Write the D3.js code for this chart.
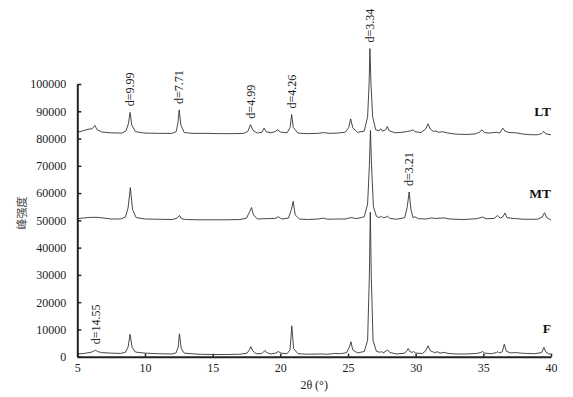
<!DOCTYPE html>
<html><head><meta charset="utf-8">
<script src="https://cdn.jsdelivr.net/npm/d3@7"></script>
<style>
html,body{margin:0;padding:0;background:#fff;}
svg{display:block;font-family:"Liberation Serif","Times New Roman",serif;}
</style></head>
<body><svg id="c" width="573" height="397"></svg>
<script>
// ---- data (2θ in degrees, intensity) ----
const seriesNames = ["F", "MT", "LT"];
const F = [[5.0,1000],[5.5,1200],[6.0,1600],[6.2,2000],[6.35,2400],[6.5,1900],[6.8,1500],[7.5,1300],[8.2,1200],[8.55,1600],[8.75,3500],[8.9,8200],[9.05,3400],[9.3,1700],[10,1300],[11,1100],[12,1000],[12.3,1400],[12.45,3500],[12.55,8400],[12.68,3000],[12.9,1300],[14,900],[15,800],[16,800],[17,900],[17.55,1300],[17.72,2600],[17.82,3700],[17.95,2200],[18.2,1100],[18.6,1100],[18.78,1800],[18.87,2300],[18.98,1500],[19.3,1000],[19.65,1300],[19.85,1900],[20.05,1300],[20.5,1100],[20.72,2500],[20.85,11300],[20.98,3000],[21.3,1100],[22,900],[23,1000],[23.5,900],[24,1200],[24.5,1100],[24.9,1500],[25.1,3500],[25.22,5500],[25.35,2500],[25.7,1400],[26.2,1900],[26.45,6000],[26.58,30000],[26.65,53000],[26.72,30000],[26.85,6000],[27.1,2000],[27.35,1600],[27.48,1900],[27.6,1400],[27.8,2000],[27.92,2500],[28.1,1500],[28.6,1000],[29.2,1300],[29.35,2200],[29.45,3000],[29.58,1800],[29.75,1600],[29.85,1900],[30.0,1300],[30.5,1200],[30.75,2200],[30.92,4000],[31.08,2200],[31.4,1500],[31.6,1800],[31.8,1300],[32.1,1600],[32.4,1200],[33,1000],[33.8,1000],[34.5,1200],[34.8,1500],[34.95,1900],[35.1,1300],[35.6,1100],[35.95,1500],[36.05,1800],[36.2,1400],[36.4,1800],[36.55,4600],[36.7,2000],[37,1400],[37.4,1500],[37.8,1300],[38.2,1200],[38.8,1100],[39.3,1500],[39.48,3400],[39.62,1700],[39.8,1100],[40,1000]];
const MT = [[5,50600],[5.5,50900],[6.0,51100],[6.5,51100],[7.0,50800],[7.5,50500],[8.2,50500],[8.55,51200],[8.75,54500],[8.92,62000],[9.08,54000],[9.35,51000],[10,50500],[11,50400],[12,50300],[12.38,50800],[12.55,51800],[12.7,50600],[13,50300],[14,50200],[15,50200],[16,50200],[17,50300],[17.5,50800],[17.72,53000],[17.87,54700],[18.02,52000],[18.3,50500],[18.8,50600],[19.6,50700],[19.85,51300],[20.1,50500],[20.6,50800],[20.82,54000],[20.95,57000],[21.1,52000],[21.4,50500],[22,50300],[22.8,50500],[23.2,50800],[23.5,50400],[24.2,50500],[24.8,50500],[25.1,50900],[25.3,51000],[25.6,50600],[26.2,51300],[26.45,56000],[26.58,70000],[26.66,83000],[26.74,70000],[26.88,55000],[27.1,51500],[27.3,51000],[27.48,51500],[27.6,50900],[27.8,51200],[27.92,51500],[28.1,50700],[28.6,50400],[29.2,51000],[29.38,55000],[29.52,60400],[29.65,54000],[29.8,51000],[29.95,51300],[30.2,50600],[30.8,50500],[31.15,50900],[31.5,50700],[32.1,50900],[32.5,50500],[33.5,50300],[34.5,50600],[34.95,51200],[35.2,50600],[35.8,50700],[36.05,51800],[36.25,50800],[36.45,51300],[36.6,52700],[36.75,51000],[37.2,50700],[38,50400],[39,50400],[39.35,51200],[39.52,52800],[39.68,51000],[40,50100]];
const LT = [[5,82300],[5.4,82800],[5.8,83400],[6.1,83600],[6.3,84800],[6.45,83300],[6.8,82400],[7.5,82100],[8.3,82000],[8.6,82800],[8.78,85500],[8.9,89600],[9.02,85000],[9.3,82500],[10,82000],[11,81900],[12,81900],[12.3,82500],[12.43,85500],[12.53,90500],[12.65,85000],[12.9,82200],[13.5,81900],[14.5,81900],[15.5,81800],[16.5,81800],[17.3,81900],[17.6,82600],[17.8,85100],[17.98,83000],[18.3,82000],[18.65,82300],[18.8,83800],[18.95,82500],[19.3,82100],[19.6,82500],[19.8,83200],[20.0,82400],[20.5,82100],[20.72,84000],[20.84,88800],[20.96,84000],[21.3,82000],[22,81800],[22.8,81900],[23.2,82200],[23.6,81900],[24.2,82000],[24.8,82300],[25.05,84000],[25.2,87200],[25.35,84000],[25.7,82300],[26.2,82700],[26.45,88000],[26.56,100000],[26.62,113000],[26.7,100000],[26.82,88000],[27.05,83200],[27.3,82800],[27.42,83600],[27.55,82700],[27.78,83200],[27.9,84400],[28.05,82800],[28.5,82100],[29.0,82300],[29.4,82600],[29.6,82800],[29.8,83200],[29.95,82500],[30.4,82200],[30.75,83600],[30.92,85400],[31.08,83500],[31.3,82600],[31.5,82800],[31.7,82300],[32.0,82500],[32.4,82000],[33,81600],[33.8,81500],[34.4,81700],[34.7,82300],[34.9,83200],[35.1,82200],[35.4,82000],[35.8,82200],[36.0,82300],[36.2,82000],[36.45,83800],[36.6,82700],[36.9,82200],[37.4,82100],[38,81600],[38.5,81400],[39,81400],[39.3,81800],[39.47,82600],[39.62,81700],[40,81400]];
// peak annotations: text, 2θ, intensity of apex
const peakLabels = ["d=14.55","d=9.99","d=7.71","d=4.99","d=4.26","d=3.34","d=3.21"];
const peakX = [6.35, 8.9, 12.53, 17.8, 20.84, 26.62, 29.52];
const peakY = [2400, 89600, 90500, 85100, 88800, 113000, 60400];
// series name labels at right
const nameLabelY = [8700, 58300, 88400];
const xTicks = [5,10,15,20,25,30,35,40];
const yTicks = [0,10000,20000,30000,40000,50000,60000,70000,80000,90000,100000];
const xLabel = "2θ (°)";
const yLabel = "峰强度";

// ---- chart ----
const svg = d3.select("#c");
const x = d3.scaleLinear().domain([5,40]).range([77.3,551]);
const y = d3.scaleLinear().domain([0,100000]).range([356.7,84]);

const line = d3.line().x(d=>x(d[0])).y(d=>y(d[1]));
[F, MT, LT].forEach(s=>{
  svg.append("path").datum(s).attr("d", line)
    .attr("fill","none").attr("stroke","#333").attr("stroke-width",0.9)
    .attr("stroke-linejoin","round");
});

const xa = svg.append("g").attr("transform",`translate(0,${y(0)})`)
  .call(d3.axisBottom(x).tickValues(xTicks).tickSize(-3).tickSizeOuter(0).tickPadding(7));
const ya = svg.append("g").attr("transform",`translate(${x(5)},0)`)
  .call(d3.axisLeft(y).tickValues(yTicks).tickSize(-4).tickSizeOuter(0).tickPadding(11).tickFormat(d3.format("d")));
[xa, ya].forEach(a=>{
  a.select(".domain").attr("stroke","#222").attr("stroke-width",2);
  a.selectAll(".tick line").attr("stroke","#222").attr("stroke-width",1.5);
  a.selectAll("text").attr("font-family","Liberation Serif, serif").attr("font-size",12).attr("fill","#222");
});

svg.append("text").attr("x",(x(5)+x(40))/2).attr("y",389)
  .attr("text-anchor","middle").attr("font-size",12).attr("fill","#222").text(xLabel);
svg.append("text").attr("transform",`translate(22,213) rotate(-90)`)
  .attr("text-anchor","middle").attr("dy","0.35em")
  .attr("font-family","'Noto Sans CJK SC', sans-serif").attr("font-size",11).attr("fill","#444").text(yLabel);

peakLabels.forEach((t,i)=>{
  svg.append("text")
    .attr("transform",`translate(${x(peakX[i])},${y(peakY[i])-6}) rotate(-90)`)
    .attr("text-anchor","start").attr("dy","0.35em")
    .attr("font-size",12).attr("fill","#222").text(t);
});

seriesNames.forEach((n,i)=>{
  svg.append("text").attr("x",x(40)).attr("y",y(nameLabelY[i]))
    .attr("text-anchor","end").attr("font-weight","bold")
    .attr("font-size",13.5).attr("fill","#111").text(n);
});
</script></body></html>
